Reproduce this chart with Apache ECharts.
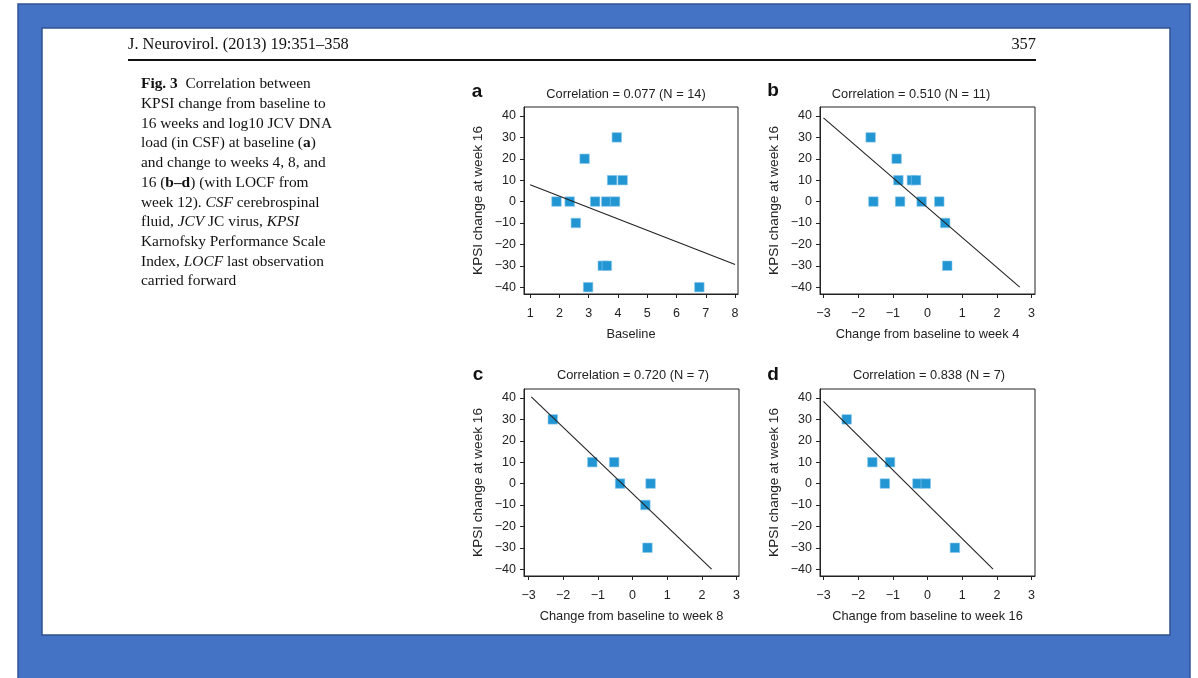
<!DOCTYPE html>
<html>
<head>
<meta charset="utf-8">
<title>Fig. 3 KPSI correlation</title>
<script src="https://cdn.jsdelivr.net/npm/echarts@6/dist/echarts.min.js"></script>
<style>
  html, body { margin: 0; padding: 0; background: #fff; }
  #main { width: 1198px; height: 678px; }
</style>
</head>
<body>
<div id="main"></div>
<script>
// panel a: baseline log10 JCV DNA vs KPSI change
var baselineX = [1.9, 2.35, 2.56, 2.86, 2.98, 3.22, 3.48, 3.62, 3.6, 3.9, 3.8, 3.96, 4.16, 6.78];
var baselineY = [0, 0, -10, 20, -40, 0, -30, -30, 0, 0, 10, 30, 10, -40];
var fitA = [[1, 7.9], [8, -29.4]];

// panel b: change to week 4
var week4X = [-1.64, -1.56, -0.89, -0.84, -0.79, -0.45, -0.33, -0.17, 0.34, 0.51, 0.57];
var week4Y = [30, 0, 20, 10, 0, 10, 10, 0, 0, -10, -30];
var fitB = [[-3, 39.1], [2.66, -40]];

// panel c: change to week 8
var week8X = [-2.3, -1.16, -0.53, -0.36, 0.52, 0.37, 0.43];
var week8Y = [30, 10, 10, 0, 0, -10, -30];
var fitC = [[-2.92, 40.5], [2.28, -40]];

// panel d: change to week 16
var week16X = [-2.33, -1.59, -1.08, -1.23, -0.29, -0.05, 0.79];
var week16Y = [30, 10, 10, 0, 0, 0, -30];
var fitD = [[-3, 38.4], [1.89, -40]];

var yTicks = [-40, -30, -20, -10, 0, 10, 20, 30, 40];
var xTicksA = [1, 2, 3, 4, 5, 6, 7, 8];
var xTicksChange = [-3, -2, -1, 0, 1, 2, 3];

var titles = ["Correlation = 0.077 (N = 14)", "Correlation = 0.510 (N = 11)",
              "Correlation = 0.720 (N = 7)", "Correlation = 0.838 (N = 7)"];
var xNames = ["Baseline", "Change from baseline to week 4",
              "Change from baseline to week 8", "Change from baseline to week 16"];
var yName = "KPSI change at week 16";

var sans = '"Liberation Sans", Arial, sans-serif';
var serif = '"Liberation Serif", "Times New Roman", serif';
var ink = "#222";
var markColor = "#2196d3";

function minus(v) {
  return String(v).replace("-", "\u2212");
}

function pairs(xs, ys) {
  return xs.map(function (x, i) { return [x, ys[i]]; });
}

var grids = [
  { left: 524, top: 107, width: 214, height: 187 },
  { left: 820, top: 107, width: 215, height: 187 },
  { left: 524, top: 389, width: 215, height: 187 },
  { left: 820, top: 389, width: 215, height: 187 }
];
var xRanges = [[0.79, 8.1], [-3.1, 3.1], [-3.13, 3.07], [-3.1, 3.1]];

var myChart = echarts.init(document.getElementById("main"));

var option = {
  animation: false,
  grid: grids.map(function (g) {
    return {
      left: g.left, top: g.top, width: g.width, height: g.height,
      show: true, borderColor: ink, borderWidth: 1, backgroundColor: "transparent"
    };
  }),
  xAxis: grids.map(function (g, i) {
    var ticks = i === 0 ? xTicksA : xTicksChange;
    return {
      type: "value", gridIndex: i,
      min: xRanges[i][0], max: xRanges[i][1],
      name: xNames[i], nameLocation: "middle", nameGap: 34,
      nameTextStyle: { fontFamily: sans, fontSize: 12.8, color: ink },
      splitLine: { show: false },
      axisLine: { show: true, onZero: false, lineStyle: { color: ink, width: 1 } },
      axisTick: { show: true, length: 4, customValues: ticks, lineStyle: { color: ink } },
      axisLabel: { customValues: ticks, margin: 13, fontFamily: sans, fontSize: 12.5, color: ink, formatter: minus }
    };
  }),
  yAxis: grids.map(function (g, i) {
    return {
      type: "value", gridIndex: i,
      min: -43.2, max: 44.2,
      name: yName, nameLocation: "middle", nameGap: 39,
      nameTextStyle: { fontFamily: sans, fontSize: 13.6, color: ink },
      splitLine: { show: false },
      axisLine: { show: true, onZero: false, lineStyle: { color: ink, width: 1 } },
      axisTick: { show: true, length: 4, customValues: yTicks, lineStyle: { color: ink } },
      axisLabel: { customValues: yTicks, margin: 8, fontFamily: sans, fontSize: 12.5, color: ink, formatter: minus }
    };
  }),
  series: [],
  graphic: []
};

var points = [pairs(baselineX, baselineY), pairs(week4X, week4Y), pairs(week8X, week8Y), pairs(week16X, week16Y)];
var fits = [fitA, fitB, fitC, fitD];

points.forEach(function (pts, i) {
  option.series.push({
    type: "line", xAxisIndex: i, yAxisIndex: i, data: fits[i],
    showSymbol: false, silent: true,
    lineStyle: { color: ink, width: 1.1 }, z: 3
  });
  option.series.push({
    type: "scatter", xAxisIndex: i, yAxisIndex: i, data: pts,
    symbol: "rect", symbolSize: 9.5,
    itemStyle: { color: markColor, borderColor: "#8cc8ec", borderWidth: 0.6, opacity: 1 }, z: 2
  });
});

// blue slide frame and white page
option.graphic.push(
  { type: "rect", shape: { x: 18, y: 4, width: 1172, height: 676 },
    style: { fill: "#4472c4", stroke: "#2f5597", lineWidth: 1.5 }, z: -10 },
  { type: "rect", shape: { x: 42, y: 28, width: 1128, height: 607 },
    style: { fill: "#ffffff", stroke: "#2f528f", lineWidth: 1.5 }, z: -9 }
);

// header
option.graphic.push(
  { type: "text", x: 128, y: 45,
    style: { text: "J. Neurovirol. (2013) 19:351\u2013358", fontFamily: serif, fontSize: 16.4, fill: "#111", align: "left", verticalAlign: "middle" } },
  { type: "text", x: 1036, y: 45,
    style: { text: "357", fontFamily: serif, fontSize: 16.4, fill: "#111", align: "right", verticalAlign: "middle" } },
  { type: "rect", shape: { x: 128, y: 59, width: 908, height: 2 }, style: { fill: "#111" } }
);

// caption
var lh = 19.7;
var capSize = 15.4;
var capRich = {
  b: { fontFamily: serif, fontSize: capSize, fontWeight: "bold", lineHeight: lh, fill: "#111" },
  i: { fontFamily: serif, fontSize: capSize, fontStyle: "italic", lineHeight: lh, fill: "#111" },
  n: { fontFamily: serif, fontSize: capSize, lineHeight: lh, fill: "#111" }
};
var captionLines = [
  "{b|Fig. 3}{n|  Correlation between}",
  "{n|KPSI change from baseline to}",
  "{n|16 weeks and log10 JCV DNA}",
  "{n|load (in CSF) at baseline (}{b|a}{n|)}",
  "{n|and change to weeks 4, 8, and}",
  "{n|16 (}{b|b\u2013d}{n|) (with LOCF from}",
  "{n|week 12). }{i|CSF}{n| cerebrospinal}",
  "{n|fluid, }{i|JCV}{n| JC virus, }{i|KPSI}",
  "{n|Karnofsky Performance Scale}",
  "{n|Index, }{i|LOCF}{n| last observation}",
  "{n|carried forward}"
];
option.graphic.push({
  type: "text", x: 141, y: 74.5,
  style: { text: captionLines.join("\n"), rich: capRich, fontFamily: serif, fontSize: capSize,
           lineHeight: lh, fill: "#111", align: "left", verticalAlign: "top" }
});

// panel titles and letters
var titlePos = [[626, 94], [911, 94], [633, 375], [929, 375]];
var letters = ["a", "b", "c", "d"];
var letterPos = [[477, 92], [773, 91], [478, 375], [773, 375]];
titles.forEach(function (t, i) {
  option.graphic.push({
    type: "text", x: titlePos[i][0], y: titlePos[i][1],
    style: { text: t, fontFamily: sans, fontSize: 12.8, fill: ink, align: "center", verticalAlign: "middle" }
  });
  option.graphic.push({
    type: "text", x: letterPos[i][0], y: letterPos[i][1],
    style: { text: letters[i], fontFamily: sans, fontSize: 19, fontWeight: "bold", fill: "#111", align: "center", verticalAlign: "middle" }
  });
});

myChart.setOption(option);
</script>
</body>
</html>
